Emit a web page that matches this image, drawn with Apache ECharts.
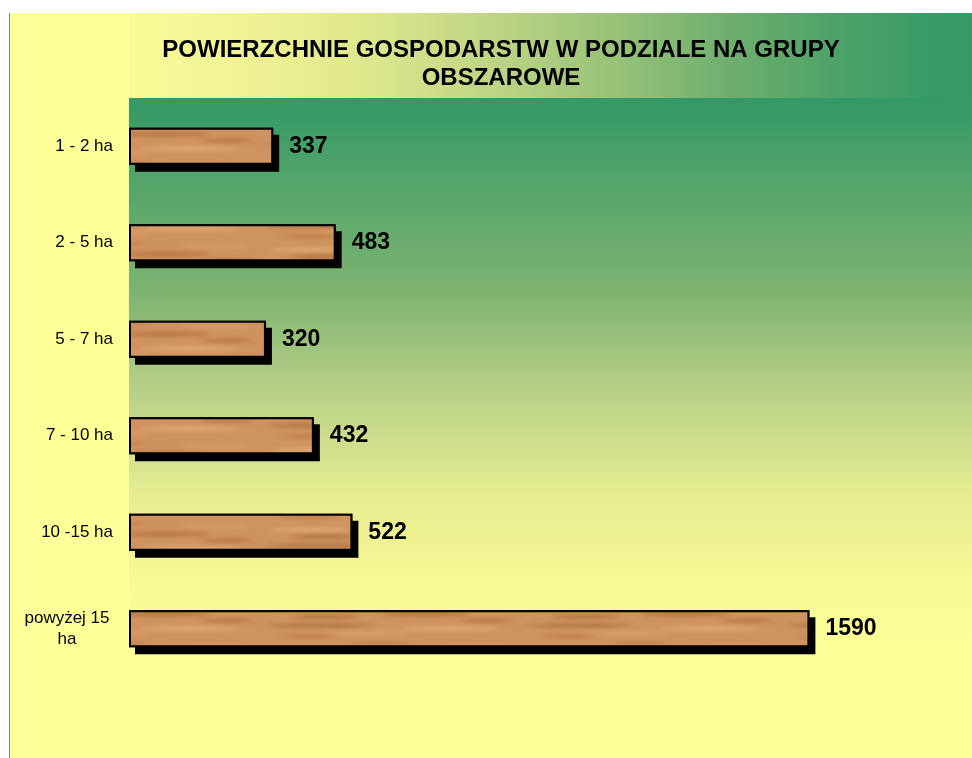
<!DOCTYPE html>
<html>
<head>
<meta charset="utf-8">
<title>Powierzchnie gospodarstw</title>
<script src="https://cdn.jsdelivr.net/npm/echarts@6/dist/echarts.min.js"></script>
<style>
html,body{margin:0;padding:0;background:#fff;}
#main{width:972px;height:758px;}
</style>
</head>
<body>
<div id="main"></div>
<script>
// dane
var categories = ['1 - 2 ha', '2 - 5 ha', '5 - 7 ha', '7 - 10 ha', '10 -15 ha', 'powyżej 15 ha'];
var values = [337, 483, 320, 432, 522, 1590];
var titleText = 'POWIERZCHNIE GOSPODARSTW W PODZIALE NA GRUPY\nOBSZAROWE';

var FONT = 'Liberation Sans, Arial, sans-serif';

// tekstura "drewna" dla słupków
function make_wood(){
  var c = document.createElement('canvas');
  c.width = 260; c.height = 40;
  var ctx = c.getContext('2d');
  ctx.fillStyle = '#cf935f';
  ctx.fillRect(0, 0, 260, 40);
  ctx.filter = 'blur(2px)';
  var streaks = [
    [10, 8, 80, 4, 'rgba(232,176,124,0.8)'],
    [30, 15, 70, 3, 'rgba(150,88,40,0.7)'],
    [120, 12, 90, 4, 'rgba(160,96,46,0.65)'],
    [5, 24, 110, 3, 'rgba(145,85,38,0.65)'],
    [140, 26, 100, 5, 'rgba(230,174,122,0.75)'],
    [60, 31, 90, 4, 'rgba(224,166,114,0.7)'],
    [180, 5, 70, 3, 'rgba(224,168,116,0.7)'],
    [200, 19, 55, 3, 'rgba(155,92,42,0.6)'],
    [90, 2, 60, 3, 'rgba(170,108,58,0.5)'],
    [20, 35, 60, 3, 'rgba(165,102,52,0.55)']
  ];
  for (var i = 0; i < streaks.length; i++){
    var s = streaks[i];
    ctx.fillStyle = s[4];
    ctx.beginPath();
    ctx.ellipse(s[0] + s[2] / 2, s[1] + s[3] / 2, s[2] / 2, s[3] / 2, 0, 0, Math.PI * 2);
    ctx.fill();
  }
  return c;
}

var myChart = echarts.init(document.getElementById('main'));
var option = {
  backgroundColor: '#ffffff',
  animation: false,
  graphic: {
    elements: [
      {
        type: 'rect', z: -20, silent: true,
        shape: {x: 9, y: 13, width: 963, height: 745},
        style: {fill: '#ffff99'}
      },
      {
        type: 'rect', z: -19, silent: true,
        shape: {x: 129, y: 13, width: 843, height: 85},
        style: {
          fill: new echarts.graphic.LinearGradient(0, 0, 1, 0, [
            {offset: 0, color: '#fafa99'},
            {offset: 0.15, color: '#eff293'},
            {offset: 0.3, color: '#dbe58c'},
            {offset: 0.45, color: '#bad283'},
            {offset: 0.6, color: '#91bf76'},
            {offset: 0.72, color: '#6cae6d'},
            {offset: 0.85, color: '#4aa168'},
            {offset: 1, color: '#339966'}
          ])
        }
      },
      {
        type: 'line', z: -18, silent: true,
        shape: {x1: 9.5, y1: 13, x2: 9.5, y2: 758},
        style: {stroke: '#4f9f6a', lineWidth: 1}
      }
    ]
  },
  title: {
    text: titleText,
    left: 496,
    top: 31,
    textAlign: 'center',
    textStyle: {
      fontFamily: FONT,
      fontSize: 24,
      fontWeight: 'bold',
      color: '#000',
      lineHeight: 28
    }
  },
  grid: {
    left: 129,
    top: 98,
    right: 0,
    bottom: 81,
    show: true,
    borderWidth: 0,
    backgroundColor: new echarts.graphic.LinearGradient(0, 0, 0, 1, [
      {offset: 0, color: '#339966'},
      {offset: 0.33, color: '#7cb370'},
      {offset: 0.5, color: '#b6cf86'},
      {offset: 0.68, color: '#e4ec90'},
      {offset: 0.85, color: '#fafa97'},
      {offset: 1, color: '#ffff99'}
    ])
  },
  xAxis: {
    type: 'value',
    min: 0,
    max: 1970,
    show: false
  },
  yAxis: {
    type: 'category',
    data: categories,
    inverse: true,
    axisLine: {show: false},
    axisTick: {show: false},
    splitLine: {show: false},
    axisLabel: {
      margin: 16,
      fontFamily: FONT,
      fontSize: 17,
      color: '#000',
      formatter: function (v) {
        if (v.length > 10) {
          var k = v.lastIndexOf(' ');
          return '{w|' + v.slice(0, k) + '}\n{w|' + v.slice(k + 1) + '}';
        }
        return v;
      },
      rich: {
        w: {
          width: 92,
          align: 'center',
          fontSize: 17,
          lineHeight: 21,
          fontFamily: FONT,
          color: '#000'
        }
      }
    }
  },
  series: [
    {
      // cień pod słupkiem
      type: 'bar',
      data: values,
      barWidth: 37,
      z: 1,
      silent: true,
      itemStyle: {
        color: '#000',
        borderWidth: 0,
        shadowColor: '#000',
        shadowBlur: 0,
        shadowOffsetX: 6,
        shadowOffsetY: 7
      }
    },
    {
      type: 'bar',
      data: values,
      barWidth: 37,
      barGap: '-100%',
      z: 3,
      itemStyle: {
        color: {image: make_wood(), repeat: 'repeat'},
        borderColor: '#000',
        borderWidth: 2
      },
      label: {
        show: true,
        position: 'right',
        distance: 16,
        fontFamily: FONT,
        fontSize: 23,
        fontWeight: 'bold',
        color: '#000'
      }
    }
  ]
};
myChart.setOption(option);
</script>
</body>
</html>
